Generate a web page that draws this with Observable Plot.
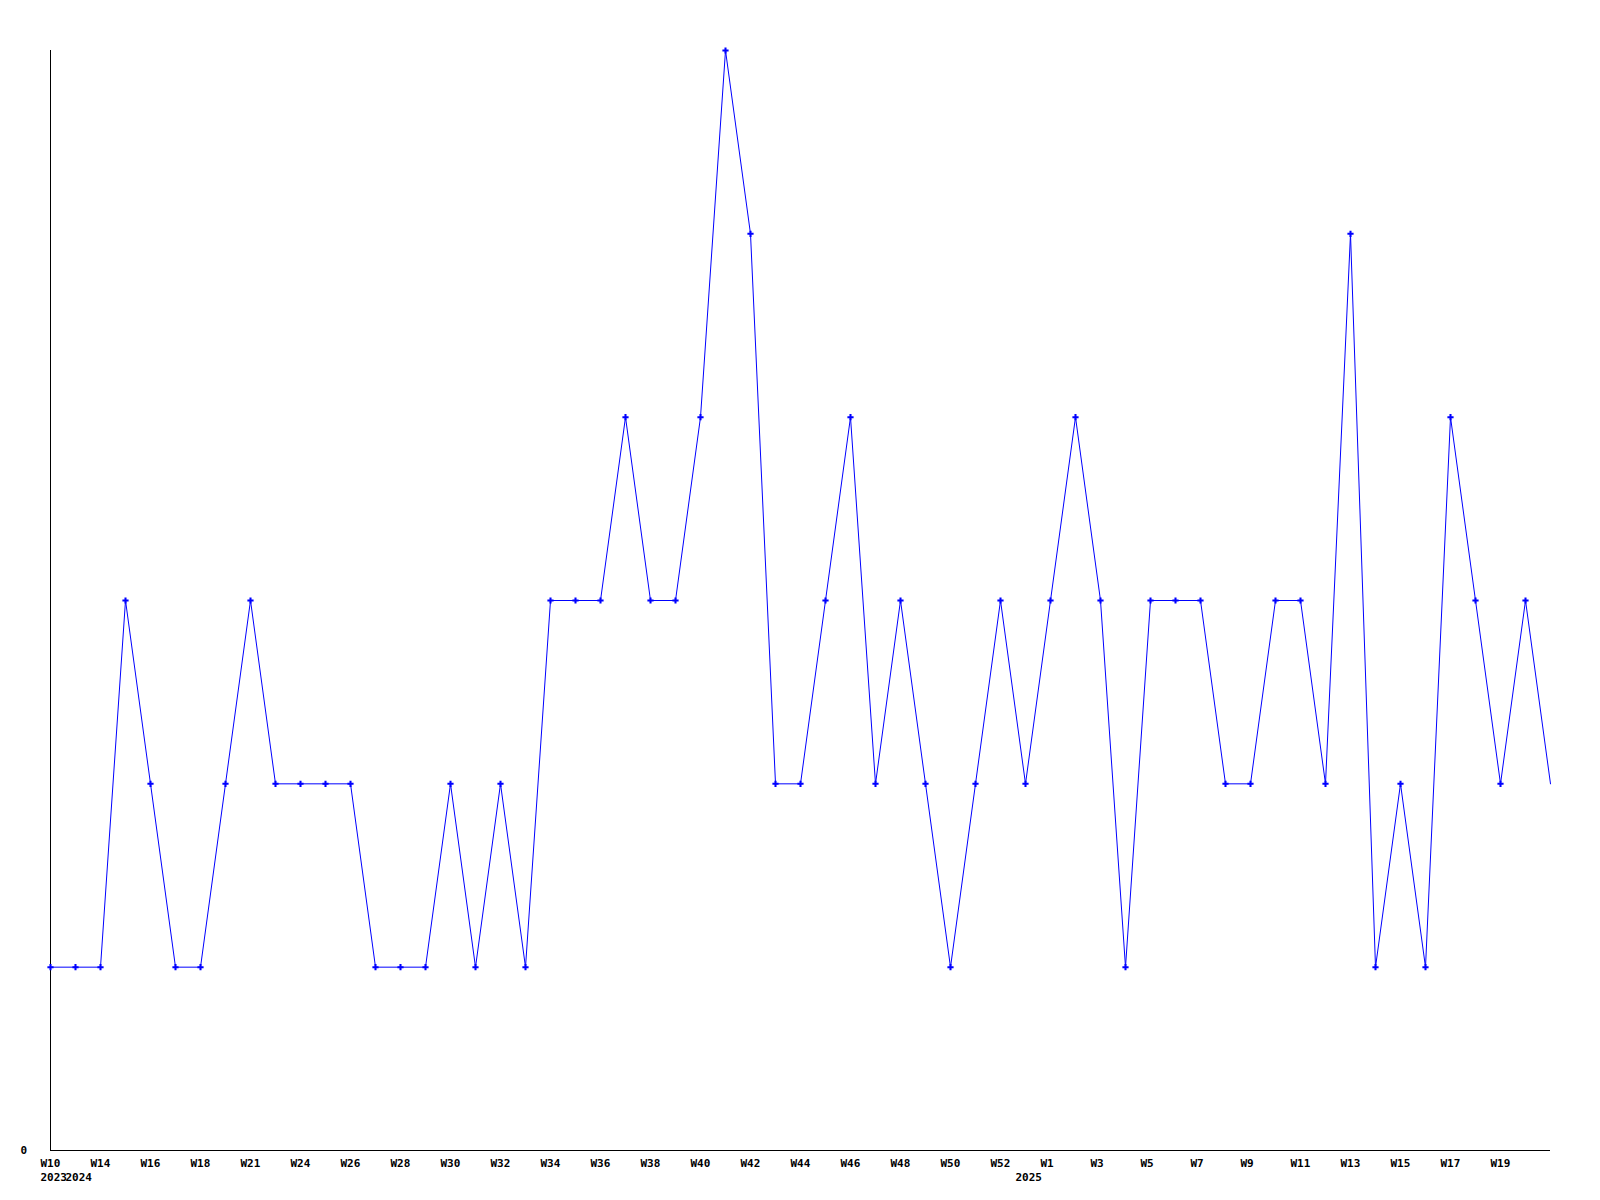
<!DOCTYPE html>
<html>
<head>
<meta charset="utf-8">
<script src="https://cdn.jsdelivr.net/npm/d3@7"></script>
<script src="https://cdn.jsdelivr.net/npm/@observablehq/plot@0.6"></script>
<style>
  html, body { margin: 0; padding: 0; background: #fff; }
</style>
</head>
<body>
<div id="chart"></div>
<script>
// Values per sample (index 0..60)
const values = [1,1,1,3,2,1,1,2,3,2, 2,2,2,1,1,1,2,1,2,1, 3,3,3,4,3,3,4,6,5,2, 2,3,4,2,3,2,1,2,3,2, 3,4,3,1,3,3,3,2,2,3, 3,2,5,1,2,1,4,3,2,3, 2];
// Week tick labels and the sample index they sit under
const weekTickIndex = [0,2,4,6,8,10,12,14,16,18,20,22,24,26,28,30,32,34,36,38,40,42,44,46,48,50,52,54,56,58];
const weekTickLabels = ["W10","W14","W16","W18","W21","W24","W26","W28","W30","W32","W34","W36","W38","W40","W42","W44","W46","W48","W50","W52","W1","W3","W5","W7","W9","W11","W13","W15","W17","W19"];
// Year labels
const yearTickIndex = [0, 1, 39];
const yearTickLabels = ["2023", "2024", "2025"];
// Y axis labels
const yTickValues = [0];
const yTickLabels = ["0"];

const points = values.map((v, i) => ({i, v}));
const markers = points.slice(0, points.length - 1);
const weekTicks = weekTickIndex.map((i, k) => ({i, label: weekTickLabels[k]}));
const yearTicks = yearTickIndex.map((i, k) => ({i, label: yearTickLabels[k]}));
const yTicks = yTickValues.map((v, k) => ({v, label: yTickLabels[k]}));

const font = "DejaVu Sans Mono, monospace";

const chart = Plot.plot({
  width: 1600,
  height: 1200,
  marginLeft: 50,
  marginRight: 50,
  marginTop: 50,
  marginBottom: 50,
  style: {background: "#fff", fontFamily: font},
  x: {domain: [0, 60], axis: null},
  y: {domain: [0, 6], axis: null},
  marks: [
    Plot.ruleX([0], {stroke: "#000", strokeWidth: 1}),
    Plot.ruleY([0], {stroke: "#000", strokeWidth: 1}),
    Plot.line(points, {x: "i", y: "v", stroke: "#0000ff", strokeWidth: 1}),
    Plot.dot(markers, {x: "i", y: "v", symbol: "cross", r: 2.6, fill: "#0000ff", stroke: "none"}),
    Plot.text(weekTicks, {x: "i", y: 0, text: "label", dy: 13, dx: -10, textAnchor: "start", fontSize: 11, fontWeight: "bold", fill: "#000", fontFamily: font}),
    Plot.text(yearTicks, {x: "i", y: 0, text: "label", dy: 27, dx: -10, textAnchor: "start", fontSize: 11, fontWeight: "bold", fill: "#000", fontFamily: font}),
    Plot.text(yTicks, {x: 0, y: "v", text: "label", dx: -30, textAnchor: "start", fontSize: 11, fontWeight: "bold", fill: "#000", fontFamily: font})
  ]
});
document.getElementById("chart").appendChild(chart);
</script>
</body>
</html>
